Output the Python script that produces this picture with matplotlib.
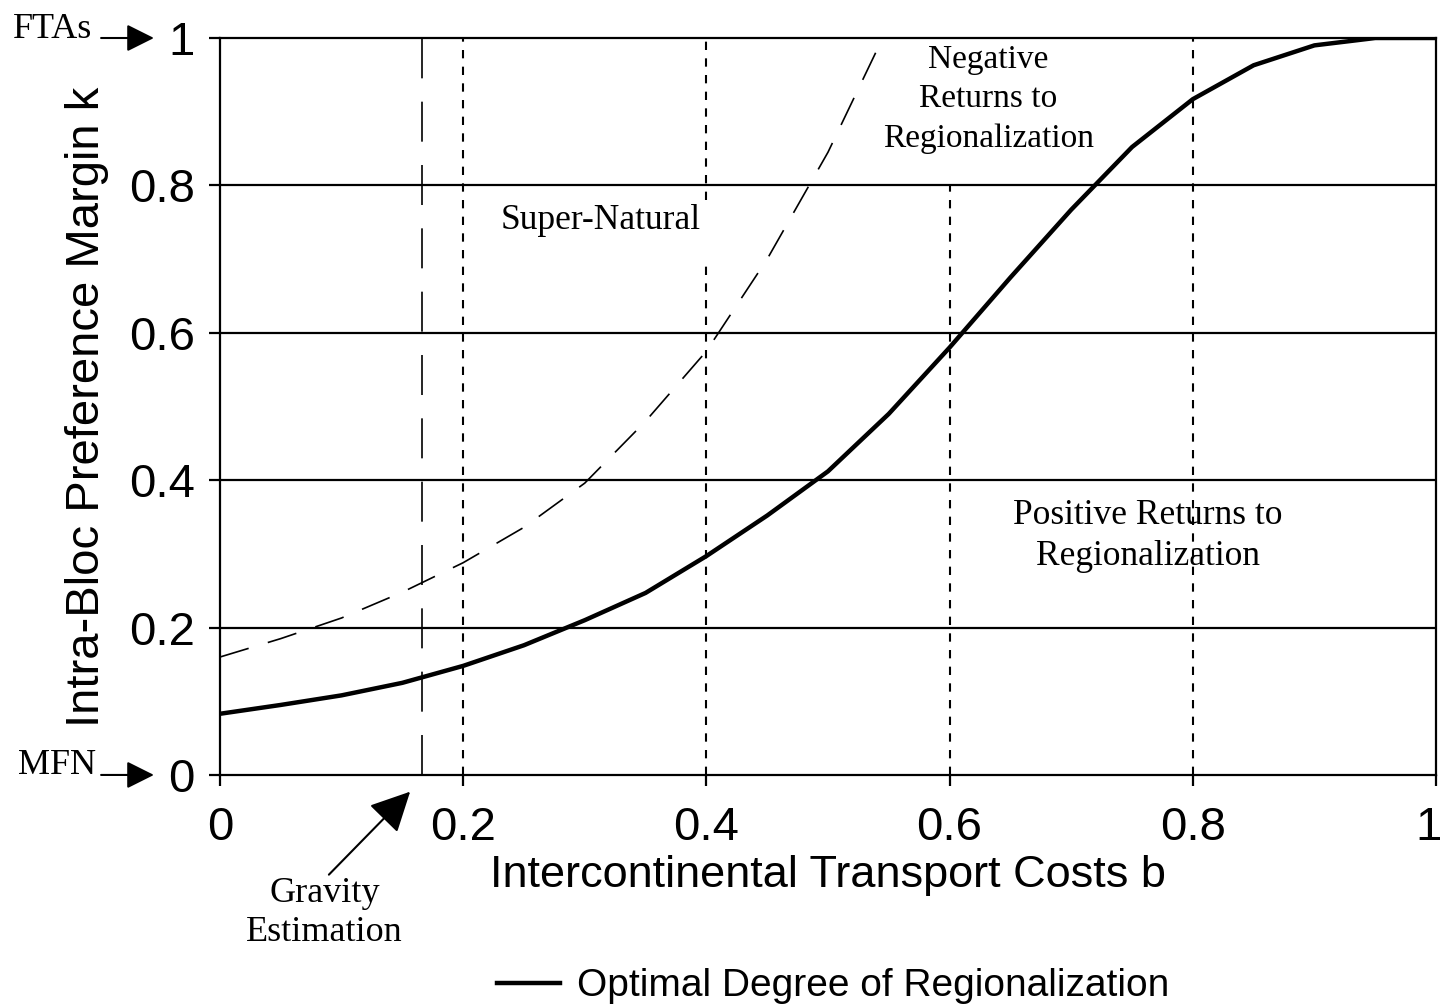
import matplotlib
matplotlib.use("Agg")
import matplotlib.pyplot as plt
import matplotlib.transforms as mtransforms
from matplotlib.lines import Line2D

# optimal degree of regionalization (solid)
b_opt = [0, 0.05, 0.1, 0.15, 0.2, 0.25, 0.3, 0.35, 0.4, 0.45, 0.5,
         0.55, 0.6, 0.65, 0.7, 0.75, 0.8, 0.85, 0.9, 0.95, 1.0]
k_opt = [0.083, 0.095, 0.108, 0.125, 0.148, 0.176, 0.21, 0.247, 0.297, 0.352, 0.412,
         0.49, 0.58, 0.675, 0.767, 0.852, 0.917, 0.963, 0.99, 1.0, 1.0]

# super-natural boundary (dashed)
b_sn = [0, 0.05, 0.1, 0.15, 0.2, 0.25, 0.3, 0.35, 0.4, 0.45, 0.5, 0.545]
k_sn = [0.16, 0.185, 0.213, 0.248, 0.288, 0.336, 0.396, 0.48, 0.575, 0.70, 0.845, 1.0]

gravity_b = 0.166
ticks = [0, 0.2, 0.4, 0.6, 0.8, 1]
tick_labels = ["0", "0.2", "0.4", "0.6", "0.8", "1"]

SANS = ["Liberation Sans", "DejaVu Sans"]
SERIF = ["Liberation Serif", "DejaVu Serif"]

fig = plt.figure(figsize=(14.45, 10.08), dpi=100)
ax = fig.add_axes([0.1522, 0.2312, 0.8416, 0.7311])

ax.set_xlim(0, 1)
ax.set_ylim(0, 1)

# horizontal grid
for y in [0.2, 0.4, 0.6, 0.8]:
    ax.axhline(y, color="black", lw=1.6, zorder=1)

# vertical dotted lines
dot = (0, (4, 4))
ax.vlines(0.2, 0, 1, colors="black", lw=1.5, linestyles=[dot])
ax.vlines(0.4, 0, 0.692, colors="black", lw=1.5, linestyles=[dot])
ax.vlines(0.4, 0.78, 1, colors="black", lw=1.5, linestyles=[dot])
ax.vlines(0.6, 0, 0.8, colors="black", lw=1.5, linestyles=[dot])
ax.vlines(0.8, 0, 1, colors="black", lw=1.5, linestyles=[dot])

# gravity estimate line
ax.axvline(gravity_b, color="black", lw=1.2, linestyle=(0, (24, 14)))

ax.plot(b_sn, k_sn, color="black", lw=1.2, linestyle=(0, (18, 12)))
ax.plot(b_opt, k_opt, color="black", lw=3.2, solid_capstyle="butt")

for s in ax.spines.values():
    s.set_linewidth(1.6)

ax.set_xticks(ticks)
ax.set_xticklabels(tick_labels)
ax.set_yticks(ticks)
ax.set_yticklabels(tick_labels)
ax.tick_params(axis="x", direction="out", length=8, width=1.6, pad=14)
ax.tick_params(axis="y", direction="out", length=8, width=1.6, pad=10)
for lab in ax.get_xticklabels() + ax.get_yticklabels():
    lab.set_family(SANS)
    lab.set_fontsize(34)
# keep the last x label inside the figure
last = ax.get_xticklabels()[-1]
last.set_transform(last.get_transform() +
                   mtransforms.ScaledTranslation(-8 / 100, 0, fig.dpi_scale_trans))

ax.set_xlabel("Intercontinental Transport Costs b", family=SANS, fontsize=32.5, labelpad=4)
ax.set_ylabel("Intra-Bloc Preference Margin k", family=SANS, fontsize=34, labelpad=14)

# region labels
ax.text(0.313, 0.752, "Super-Natural", family=SERIF, fontsize=25.5, ha="center", va="center")
ax.text(0.632, 0.917, "Negative\nReturns to\nRegionalization", family=SERIF, fontsize=24,
        ha="center", va="center", linespacing=1.38)
ax.text(0.763, 0.324, "Positive Returns to\nRegionalization", family=SERIF, fontsize=25.5,
        ha="center", va="center", linespacing=1.3)

# FTAs / MFN markers
yt = ax.get_yaxis_transform()
arrow = dict(arrowstyle="-|>", mutation_scale=42, color="black", lw=1.5)
ax.text(-0.105, 1.012, "FTAs", transform=yt, family=SERIF, fontsize=26,
        ha="right", va="center")
ax.annotate("", xy=(-0.052, 1.0), xytext=(-0.1, 1.0), xycoords=yt, textcoords=yt,
            arrowprops=arrow, annotation_clip=False)
ax.text(-0.102, 0.013, "MFN", transform=yt, family=SERIF, fontsize=26,
        ha="right", va="center")
ax.annotate("", xy=(-0.052, 0.0), xytext=(-0.1, 0.0), xycoords=yt, textcoords=yt,
            arrowprops=arrow, annotation_clip=False)

# gravity estimation arrow
ax.annotate("", xy=(0.158, -0.02), xytext=(0.088, -0.138),
            arrowprops=dict(arrowstyle="-|>", mutation_scale=62, color="black", lw=1.5),
            annotation_clip=False)
ax.text(0.086, -0.187, "Gravity\nEstimation", family=SERIF, fontsize=26,
        ha="center", va="center", linespacing=1.25)

# legend
fig.add_artist(Line2D([0.344, 0.3875], [0.0248, 0.0248], color="black", lw=3.2,
                      transform=fig.transFigure))
fig.text(0.3993, 0.022, "Optimal Degree of Regionalization", family=SANS,
         fontsize=28, ha="left", va="center")

fig.savefig("out.png", dpi=100)
